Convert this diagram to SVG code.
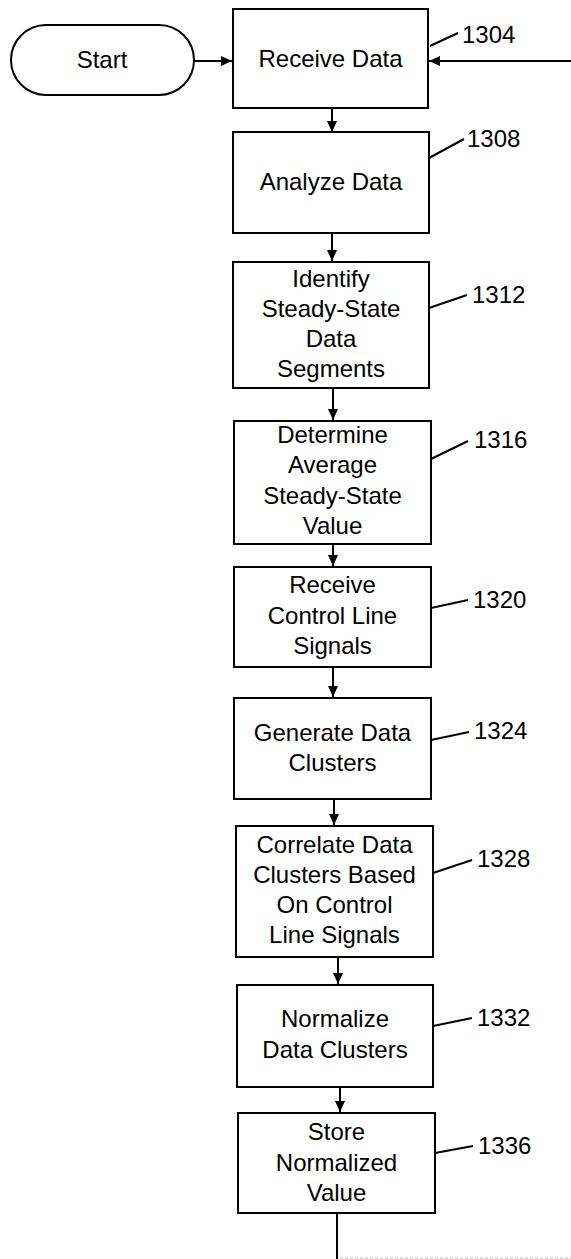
<svg xmlns="http://www.w3.org/2000/svg" width="571" height="1259" viewBox="0 0 571 1259">
<style>
.box{fill:#fff;stroke:#000;stroke-width:2}
.t{font-family:"Liberation Sans",Arial,sans-serif;font-size:24px;fill:#000;text-anchor:middle}
.ref{font-family:"Liberation Sans",Arial,sans-serif;font-size:24px;fill:#000}
.ln{stroke:#000;stroke-width:2;fill:none}
.ld{stroke:#000;stroke-width:2;fill:none}
</style>
<defs>
<marker id="ah" markerUnits="userSpaceOnUse" markerWidth="12" markerHeight="10" refX="11" refY="5" orient="auto">
<path d="M0,0 L11,5 L0,10 Z" fill="#000"/>
</marker>
</defs>
<rect width="571" height="1259" fill="#fff"/>
<g id="connectors">
<line class="ln" x1="194" y1="61" x2="232" y2="61" marker-end="url(#ah)"/>
<line class="ln" x1="571" y1="61" x2="429" y2="61" marker-end="url(#ah)"/>
<line class="ln" x1="332" y1="108" x2="332" y2="132" marker-end="url(#ah)"/>
<line class="ln" x1="332" y1="233" x2="332" y2="261" marker-end="url(#ah)"/>
<line class="ln" x1="333" y1="388" x2="333" y2="420" marker-end="url(#ah)"/>
<line class="ln" x1="333" y1="544" x2="333" y2="566" marker-end="url(#ah)"/>
<line class="ln" x1="333" y1="667" x2="333" y2="697" marker-end="url(#ah)"/>
<line class="ln" x1="334" y1="799" x2="334" y2="825" marker-end="url(#ah)"/>
<line class="ln" x1="338" y1="957" x2="338" y2="984" marker-end="url(#ah)"/>
<line class="ln" x1="340" y1="1087" x2="340" y2="1112" marker-end="url(#ah)"/>
<line class="ln" x1="337" y1="1213" x2="337" y2="1259"/>
<line x1="340" y1="1258" x2="571" y2="1258" stroke="#bbb" stroke-width="1" stroke-dasharray="3 2"/>
</g>
<g id="start">
<rect class="box" x="11" y="25" width="183" height="70" rx="35" ry="35"/>
<text class="t" x="102" y="68">Start</text>
</g>
<g id="n1304">
<rect class="box" x="233" y="9" width="195" height="99"/>
<text class="t" x="330.5" y="67">Receive Data</text>
<line class="ld" x1="430" y1="46" x2="458" y2="33"/>
<text class="ref" x="462" y="43">1304</text>
</g>
<g id="n1308">
<rect class="box" x="233" y="132" width="196" height="101"/>
<text class="t" x="331" y="190">Analyze Data</text>
<line class="ld" x1="429" y1="158" x2="464" y2="139"/>
<text class="ref" x="467" y="147">1308</text>
</g>
<g id="n1312">
<rect class="box" x="233" y="262" width="196" height="126"/>
<text class="t" x="331" y="287">Identify</text>
<text class="t" x="331" y="317">Steady-State</text>
<text class="t" x="331" y="347">Data</text>
<text class="t" x="331" y="377">Segments</text>
<line class="ld" x1="429" y1="308" x2="467" y2="295"/>
<text class="ref" x="472" y="303">1312</text>
</g>
<g id="n1316">
<rect class="box" x="234" y="421" width="197" height="123"/>
<text class="t" x="332.5" y="443">Determine</text>
<text class="t" x="332.5" y="473">Average</text>
<text class="t" x="332.5" y="504">Steady-State</text>
<text class="t" x="332.5" y="534">Value</text>
<line class="ld" x1="431" y1="459" x2="468" y2="441"/>
<text class="ref" x="474" y="448">1316</text>
</g>
<g id="n1320">
<rect class="box" x="234" y="567" width="197" height="100"/>
<text class="t" x="332.5" y="593">Receive</text>
<text class="t" x="332.5" y="624">Control Line</text>
<text class="t" x="332.5" y="654">Signals</text>
<line class="ld" x1="431" y1="608" x2="468" y2="600"/>
<text class="ref" x="473" y="608">1320</text>
</g>
<g id="n1324">
<rect class="box" x="234" y="698" width="197" height="101"/>
<text class="t" x="332.5" y="741">Generate Data</text>
<text class="t" x="332.5" y="771">Clusters</text>
<line class="ld" x1="431" y1="740" x2="469" y2="732"/>
<text class="ref" x="474" y="739">1324</text>
</g>
<g id="n1328">
<rect class="box" x="236" y="826" width="197" height="131"/>
<text class="t" x="334.5" y="853">Correlate Data</text>
<text class="t" x="334.5" y="883">Clusters Based</text>
<text class="t" x="334.5" y="913">On Control</text>
<text class="t" x="334.5" y="943">Line Signals</text>
<line class="ld" x1="433" y1="873" x2="472" y2="860"/>
<text class="ref" x="477" y="867">1328</text>
</g>
<g id="n1332">
<rect class="box" x="237" y="985" width="196" height="102"/>
<text class="t" x="335" y="1027">Normalize</text>
<text class="t" x="335" y="1058">Data Clusters</text>
<line class="ld" x1="433" y1="1026" x2="472" y2="1018"/>
<text class="ref" x="477" y="1026">1332</text>
</g>
<g id="n1336">
<rect class="box" x="238" y="1113" width="197" height="100"/>
<text class="t" x="336.5" y="1140">Store</text>
<text class="t" x="336.5" y="1171">Normalized</text>
<text class="t" x="336.5" y="1201">Value</text>
<line class="ld" x1="435" y1="1153" x2="473" y2="1146"/>
<text class="ref" x="478" y="1154">1336</text>
</g>
</svg>
